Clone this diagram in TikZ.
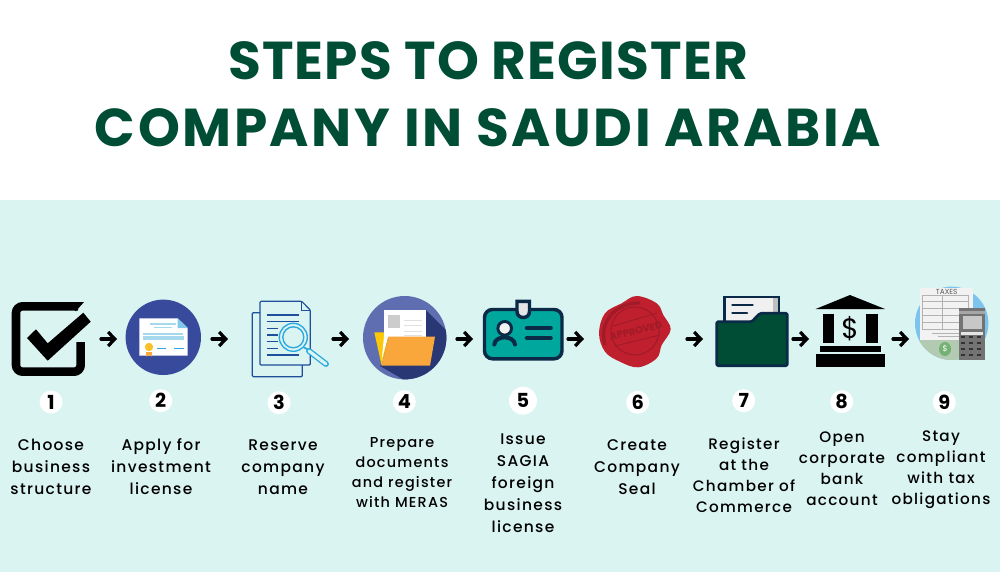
\documentclass[tikz,border=0pt]{standalone}
\usepackage{fontspec}
\usetikzlibrary{arrows.meta}
\setmainfont{Poppins}
\newfontfamily\titlefont[LetterSpace=4.8]{Poppins}
\newfontfamily\titlefontnarrow[LetterSpace=2.2]{Poppins}
\newfontfamily\labelfont[LetterSpace=8.5]{Poppins Medium}

\definecolor{titlegreen}{HTML}{004D35}
\definecolor{panelmint}{HTML}{DAF4F1}
\definecolor{navyline}{HTML}{0A2A47}
\definecolor{royal}{HTML}{374A9C}
\definecolor{pageblue}{HTML}{1F4E9B}
\definecolor{lensblue}{HTML}{2AA7E0}
\definecolor{paleblue}{HTML}{A6D8EE}
\definecolor{skyblue}{HTML}{7CC4EE}
\definecolor{folderorange}{HTML}{F9A63A}
\definecolor{cardteal}{HTML}{00A79D}
\definecolor{waxred}{HTML}{C01F2E}
\definecolor{waxdark}{HTML}{A01A27}

\tikzset{
  iconslot/.style={inner sep=0pt,outer sep=0pt,minimum height=30pt},
  steparrow/.style={line width=2.4pt,line cap=round,-{Straight Barb[length=5pt,width=10.5pt]}},
  badge/.style={circle,fill=white,inner sep=0pt,minimum size=17.25pt,font=\bfseries\fontsize{14.5}{14.5}\selectfont},
  steptext/.style={align=center,inner sep=0pt,text=black,font=\labelfont\fontsize{11.6}{16.5}\selectfont},
}

\begin{document}
\begin{tikzpicture}[x=0.75pt,y=-0.75pt]
  \useasboundingbox (0,0) rectangle (1000,572);
  \fill[panelmint] (0,200) rectangle (1000,572);

  \node[text=titlegreen,inner sep=0pt,font=\titlefontnarrow\bfseries\fontsize{40}{50}\selectfont] (title1) at (488,61) {STEPS TO REGISTER};
  \node[text=titlegreen,inner sep=0pt,font=\titlefont\bfseries\fontsize{40}{50}\selectfont] (title2) at (488,128) {COMPANY IN SAUDI ARABIA};

  % slots, their sides are where the arrows start and stop
  \foreach \name/\xa/\xb in {icon1/11/101,icon2/117/212,icon3/228/333,icon4/349/457,icon5/473/568,icon6/584/687,icon7/703/793,icon8/809/893,icon9/909/989}{
    \node[iconslot,minimum width=(\xb-\xa)*0.75pt] (\name) at ({(\xa+\xb)/2},339) {};
  }

  % check box
  \draw[line width=6.4pt,rounded corners=5pt] (78,306.3) -- (16,306.3) -- (16,371.7) -- (80.7,371.7) -- (80.7,342);
  \fill (77,302) -- (84,302) -- (76,311) -- (75,311) -- cycle;
  \fill (27,338) -- (36,329.3) -- (47.7,343.3) -- (83.3,312.7) -- (90.7,321.7) -- (47.7,360.7) -- cycle;

  % licence
  \fill[royal] (163.3,337.3) circle [radius=37.7];
  \fill[white] (139.3,318.3) -- (177.7,318.3) -- (187.7,328) -- (187.7,355.7) -- (139.3,355.7) -- cycle;
  \fill[paleblue!70!lensblue] (177.7,318.3) -- (187.7,328) -- (177.7,328) -- cycle;
  \fill[paleblue] (150,323.3) rectangle (176,325);
  \fill[paleblue] (154,326.5) rectangle (172,327.8);
  \fill[paleblue] (143,332.5) rectangle (183,334.5);
  \fill[paleblue] (142.5,336.3) rectangle (183.5,340);
  \draw[lensblue,line width=0.6pt] (156.5,348) -- (166,348) (174,348) -- (184,348);
  \fill[folderorange] (146,352) -- (152,352) -- (152,356.5) -- (149,355) -- (146,356.5) -- cycle;
  \fill[folderorange!70!yellow] (149,347) circle [radius=4.2];

  % document and magnifier
  \draw[pageblue,line width=0.9pt,rounded corners=0.8pt] (252.3,312.7) rectangle (302.3,376.7);
  \draw[pageblue,fill=panelmint,line width=0.9pt,rounded corners=0.8pt] (260,301.3) -- (301.7,301.3) -- (310.3,310) -- (310.3,365) -- (260,365) -- cycle;
  \draw[pageblue,line width=0.7pt] (301.7,301.3) -- (301.7,310) -- (310.3,310);
  \foreach \yy in {315,321.7,355}{
    \draw[pageblue,line width=0.9pt] (266.7,\yy) -- (299,\yy);
  }
  \foreach \yy in {328.3,335,341.7,348.3}{
    \draw[pageblue,line width=0.9pt] (266.7,\yy) -- (277.7,\yy);
  }
  \draw[lensblue,fill=panelmint,line width=1pt] (293.3,337.3) circle [radius=14];
  \draw[lensblue,line width=1pt] (293.3,337.3) circle [radius=10.5];
  \draw[lensblue,line width=1.2pt] (304,347.5) -- (308,349.5);
  \draw[lensblue,line width=4.4pt,line cap=round] (309,351) -- (326,364);
  \draw[panelmint,line width=2.4pt,line cap=round] (309,351) -- (326,364);

  % folder with papers
  \begin{scope}
    \clip (404.7,337.7) circle [radius=41.7];
    \fill[royal!80!white] (360,290) rectangle (450,390);
    \fill[royal!75!black] (426,310) -- (470,354) -- (430,395) -- (380,366) -- cycle;
  \end{scope}
  \fill[yellow!60!orange] (374.3,332.3) -- (402.7,332.3) -- (402.7,336) -- (388.3,336) -- (381.7,365.7) -- cycle;
  \fill[white] (384,310) rectangle (426,336.7);
  \fill[black!20] (388.3,315) rectangle (400,328.3);
  \foreach \yy in {319.5,325,330.5,335}{
    \fill[black!12] (404,\yy) rectangle (421.7,\yy+1.2);
  }
  \fill[white] (384,336) -- (388.3,336) -- (381.7,360) -- cycle;
  \fill[folderorange] (388.3,336.7) -- (435,336.7) -- (430,365.7) -- (381.7,365.7) -- cycle;

  % id card
  \draw[navyline,fill=cardteal,line width=2.6pt,rounded corners=6pt] (484.5,309.5) rectangle (562,358.8);
  \draw[navyline,fill=black!10,line width=2.6pt] (517,301.3) -- (529.5,301.3) -- (529.5,311.5) .. controls (529.5,319.5) and (517,319.5) .. (517,311.5) -- cycle;
  \draw[navyline,fill=black!5,line width=2.2pt] (504.7,328.3) circle [radius=6.8];
  \draw[navyline,line width=3pt,line cap=round] (494.3,344.5) .. controls (495,335) and (514,335) .. (515,344.5);
  \draw[navyline,line width=3.4pt,line cap=round] (527,328) -- (550.5,328) (527,338) -- (550.5,338);

  % wax seal
  \fill[waxred] plot[smooth cycle,tension=0.6] coordinates {(636.7,296) (656.7,303.3) (663.3,315) (670.7,329.3) (661.7,345) (656.7,358.3) (638.3,367.3) (620,361.7) (605,351.7) (599,333.3) (605,313.3) (621.7,303.3)};
  \draw[waxdark,line width=2.4pt] (605,345) .. controls (598,320) and (618,302) .. (640,303);
  \draw[waxdark,line width=0.8pt] (635,331) circle [radius=24];
  \draw[waxdark,line width=0.7pt] (613,326) -- (657,313) (615,346) -- (660,335);
  \node[rotate=13,text=waxdark,inner sep=0pt,font=\bfseries\fontsize{7.4}{8}\selectfont] (stamp) at (636,331) {APPROVED};

  % filing folder
  \draw[navyline,fill=black!6,line width=1.8pt] (724.3,328) -- (724.3,296.7) -- (779,296.7) -- (779,328);
  \fill[black!25] (773,298) rectangle (778,318);
  \draw[navyline,line width=2.2pt,line cap=round] (732.5,305) -- (752.5,305) (732.5,313) -- (747,313);
  \draw[navyline,fill=titlegreen,line width=2pt,line join=round,rounded corners=1pt] (716.7,321.7) -- (751.7,321.7) -- (760,313.3) -- (787.3,313.3) -- (787.3,365.7) -- (716.7,365.7) -- cycle;

  % bank
  \fill (815.7,309) -- (850,295) -- (885,309) -- cycle;
  \fill (822.7,314.3) rectangle (834.3,342.7);
  \fill (866,314.3) rectangle (877.7,342.7);
  \fill (820,345.7) rectangle (880.7,352.3);
  \fill (815.7,354.3) rectangle (885,366.7);
  \node[inner sep=0pt,font=\fontsize{21}{21}\selectfont] (dollar) at (850,329) {\$};

  % taxes
  \fill[skyblue] (951.7,323.3) circle [radius=36.7];
  \fill[black!5] (920,287.7) rectangle (972.7,340);
  \draw[black!30,line width=0.5pt] (922.5,295.5) rectangle (968.5,329);
  \foreach \yy in {301,308,315,322}{
    \draw[black!30,line width=0.5pt] (922.5,\yy) -- (968.5,\yy);
  }
  \draw[black!30,line width=0.5pt] (942,295.5) -- (942,329);
  \draw[black!30,line width=0.7pt] (932,333) -- (968,333) (938,336.5) -- (968,336.5);
  \begin{scope}
    \clip (951.7,323.3) circle [radius=36.7];
    \fill[green!30!black!30!white] (915,340) rectangle (990,362);
    \fill[green!45!black!55!white] (945,349) ellipse [x radius=6,y radius=7];
    \node[text=white,inner sep=0pt,font=\fontsize{6}{6}\selectfont] (cash) at (945,349) {\$};
  \end{scope}
  \node[text=black!65,inner sep=0pt,font=\fontsize{5.5}{6}\selectfont] (taxes) at (946.7,291.8) {TAXES};
  \fill[black!55] (959.3,307.7) rectangle (985,360);
  \fill[black!35] (959.3,311) rectangle (985,314);
  \fill[black!22] (962.5,316) rectangle (982,329);
  \foreach \yy in {337,343,349,355}{
    \foreach \xx in {963,971,979}{
      \fill[black!80] (\xx-1.8,\yy-1.2) rectangle (\xx+1.8,\yy+1.2);
    }
  }
  \fill[black!10] (961,332) rectangle (983,334.5);

  % arrows
  \foreach \from/\to in {icon1/icon2,icon2/icon3,icon3/icon4,icon4/icon5,icon5/icon6,icon6/icon7,icon7/icon8,icon8/icon9}{
    \draw[steparrow] (\from) -- (\to);
  }

  % numbers
  \foreach \num/\xx/\yy in {1/51/402,2/160.7/400.7,3/279/402.7,4/404.3/401.7,6/637.7/402.3,7/743.7/400.7,8/841.7/401.7,9/944.3/402.3}{
    \node[badge] (num\num) at (\xx,\yy) {\num};
  }
  \node[badge,minimum size=21pt] (num5) at (523,400.7) {5};

  % texts
  \node[steptext] (text1) at (51,467) {Choose\\business\\structure};
  \node[steptext] (text2) at (161,467) {Apply for\\investment\\license};
  \node[steptext] (text3) at (283,467) {Reserve\\company\\name};
  \node[steptext,font=\labelfont\fontsize{10.8}{15}\selectfont] (text4) at (402,473) {Prepare\\documents\\and register\\with MERAS};
  \node[steptext] (text5) at (523,483) {Issue\\SAGIA\\foreign\\business\\license};
  \node[steptext] (text6) at (637,467) {Create\\Company\\Seal};
  \node[steptext,font=\labelfont\fontsize{11.4}{15.75}\selectfont] (text7) at (744,475) {Register\\at the\\Chamber of\\Commerce};
  \node[steptext,font=\labelfont\fontsize{11.4}{15.75}\selectfont] (text8) at (842,469) {Open\\corporate\\bank\\account};
  \node[steptext,font=\labelfont\fontsize{11.4}{15.75}\selectfont] (text9) at (941,470) {Stay\\compliant\\with tax\\obligations};
\end{tikzpicture}
\end{document}
